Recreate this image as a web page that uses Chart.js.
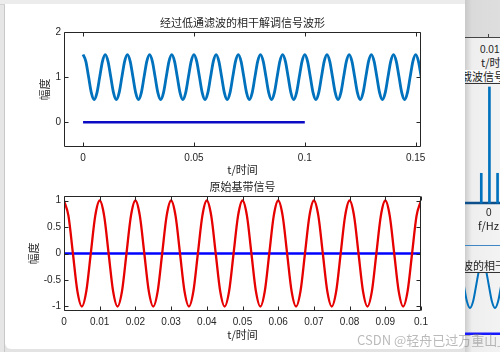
<!DOCTYPE html>
<html>
<head>
<meta charset="utf-8">
<script src="https://cdn.jsdelivr.net/npm/chart.js@4.4.1/dist/chart.umd.min.js"></script>
<style>
    html, body { margin: 0; padding: 0; }
    body { width: 500px; height: 352px; position: relative; overflow: hidden; background: #e3e3e3; font-family: "Noto Sans CJK SC", sans-serif; }
    .abs { position: absolute; }
    #leftStrip { left: 0; top: 0; width: 5px; height: 352px; background: #e6e6e6; border-right: 1px solid #c8c8c8; box-sizing: border-box; }
    #topStrip { left: 0; top: 0; width: 465px; height: 5px; background: #ececec; border-bottom: 1px solid #d2d2d2; box-sizing: border-box; }
    #figWin { left: 5px; top: 4px; width: 460px; height: 345px; background: #fff; border-radius: 0 0 6px 6px; }
    #rightWin { left: 465px; top: 0; width: 35px; height: 352px; overflow: hidden; background: linear-gradient(to right, #cdcdcd, #eeeeee 7px, #f3f3f3); }
    #rightTop { left: 0; top: 0; width: 35px; height: 37px; background: linear-gradient(to right, #c9c9c9, #dadada 7px, #dedede); border-bottom: 1px solid #444; }
    .rtxt { position: absolute; white-space: nowrap; color: #222; line-height: 12px; }
    .num { font-family: "Liberation Sans", Arial, sans-serif; font-size: 10px; }
    .cjk { font-size: 11px; }
    #mark { left: 357px; top: 332px; font-size: 13px; color: rgba(130, 130, 130, 0.55); white-space: nowrap; line-height: 16px; }
</style>
</head>
<body>
<div id="leftStrip" class="abs"></div>
<div id="topStrip" class="abs"></div>
<div id="figWin" class="abs"></div>
<div id="rightWin" class="abs">
    <div id="rightTop" class="abs"></div>
    <div class="abs" style="left:23px;top:34px;width:1px;height:4px;background:#444"></div>
    <div class="rtxt num" style="left:15px;top:44px">0.01</div>
    <div class="rtxt cjk" style="left:16px;top:56px">t/时间</div>
    <div class="rtxt cjk" style="left:-4px;top:70px;background:#fafafa">载波信号</div>
    <div class="abs" style="left:0;top:83px;width:35px;height:1px;background:#333"></div>
    <canvas id="specChart" class="abs" width="35" height="125" style="left:0;top:84px"></canvas>
    <div class="rtxt num" style="left:21px;top:207px">0</div>
    <div class="rtxt cjk" style="left:13px;top:219px">f/Hz</div>
    <div class="abs" style="left:0;top:245px;width:35px;height:1px;background:#3f86c4"></div>
    <div class="rtxt cjk" style="left:-3px;top:259px">波的相干解调</div>
    <div class="abs" style="left:0;top:272px;width:35px;height:1px;background:#333"></div>
    <canvas id="fragChart" class="abs" width="35" height="65" style="left:0;top:273px"></canvas>
</div>
<canvas id="lpfChart" class="abs" width="500" height="176" style="left:0;top:0"></canvas>
<canvas id="baseChart" class="abs" width="500" height="176" style="left:0;top:176px"></canvas>
<div id="mark" class="abs">CSDN @轻舟已过万重山_V</div>

<script>
// 时间单位: ms (刻度标签按秒显示)

// 上图: 经过低通滤波的相干解调信号
var lpfTime = [
    0, 1.25, 2.5, 3.75, 5, 6.25, 7.5, 8.75,
    10, 11.25, 12.5, 13.75, 15, 16.25, 17.5, 18.75,
    20, 21.25, 22.5, 23.75, 25, 26.25, 27.5, 28.75,
    30, 31.25, 32.5, 33.75, 35, 36.25, 37.5, 38.75,
    40, 41.25, 42.5, 43.75, 45, 46.25, 47.5, 48.75,
    50, 51.25, 52.5, 53.75, 55, 56.25, 57.5, 58.75,
    60, 61.25, 62.5, 63.75, 65, 66.25, 67.5, 68.75,
    70, 71.25, 72.5, 73.75, 75, 76.25, 77.5, 78.75,
    80, 81.25, 82.5, 83.75, 85, 86.25, 87.5, 88.75,
    90, 91.25, 92.5, 93.75, 95, 96.25, 97.5, 98.75,
    100, 101.25, 102.5, 103.75, 105, 106.25, 107.5, 108.75,
    110, 111.25, 112.5, 113.75, 115, 116.25, 117.5, 118.75,
    120, 121.25, 122.5, 123.75, 125, 126.25, 127.5, 128.75,
    130, 131.25, 132.5, 133.75, 135, 136.25, 137.5, 138.75,
    140, 141.25, 142.5, 143.75, 145, 146.25, 147.5, 148.75,
    150, 151.25, 152.5, 153.75, 155
];
var lpfValue = [
    1.5, 1.35, 1, 0.65, 0.5, 0.65, 1, 1.35,
    1.5, 1.35, 1, 0.65, 0.5, 0.65, 1, 1.35,
    1.5, 1.35, 1, 0.65, 0.5, 0.65, 1, 1.35,
    1.5, 1.35, 1, 0.65, 0.5, 0.65, 1, 1.35,
    1.5, 1.35, 1, 0.65, 0.5, 0.65, 1, 1.35,
    1.5, 1.35, 1, 0.65, 0.5, 0.65, 1, 1.35,
    1.5, 1.35, 1, 0.65, 0.5, 0.65, 1, 1.35,
    1.5, 1.35, 1, 0.65, 0.5, 0.65, 1, 1.35,
    1.5, 1.35, 1, 0.65, 0.5, 0.65, 1, 1.35,
    1.5, 1.35, 1, 0.65, 0.5, 0.65, 1, 1.35,
    1.5, 1.35, 1, 0.65, 0.5, 0.65, 1, 1.35,
    1.5, 1.35, 1, 0.65, 0.5, 0.65, 1, 1.35,
    1.5, 1.35, 1, 0.65, 0.5, 0.65, 1, 1.35,
    1.5, 1.35, 1, 0.65, 0.5, 0.65, 1, 1.35,
    1.5, 1.35, 1, 0.65, 0.5, 0.65, 1, 1.35,
    1.5, 1.35, 1, 0.65, 0.5
];
var lpfDcTime = [0, 100];
var lpfDcValue = [0, 0];
var lpfXTicks = [0, 50, 100, 150];
var lpfXLabels = ['0', '0.05', '0.1', '0.15'];
var lpfYTicks = [0, 1, 2];
var lpfYLabels = ['0', '1', '2'];

// 下图: 原始基带信号 (与上图同一组采样时刻)
var baseTime = lpfTime.slice(0, 81);
var baseValue = [
    1, 0.71, 0, -0.71, -1, -0.71, 0, 0.71,
    1, 0.71, 0, -0.71, -1, -0.71, 0, 0.71,
    1, 0.71, 0, -0.71, -1, -0.71, 0, 0.71,
    1, 0.71, 0, -0.71, -1, -0.71, 0, 0.71,
    1, 0.71, 0, -0.71, -1, -0.71, 0, 0.71,
    1, 0.71, 0, -0.71, -1, -0.71, 0, 0.71,
    1, 0.71, 0, -0.71, -1, -0.71, 0, 0.71,
    1, 0.71, 0, -0.71, -1, -0.71, 0, 0.71,
    1, 0.71, 0, -0.71, -1, -0.71, 0, 0.71,
    1, 0.71, 0, -0.71, -1, -0.71, 0, 0.71,
    1
];
var baseDcTime = [0, 100];
var baseDcValue = [0, 0];
var baseXTicks = [0, 10, 20, 30, 40, 50, 60, 70, 80, 90, 100];
var baseXLabels = ['0', '0.01', '0.02', '0.03', '0.04', '0.05', '0.06', '0.07', '0.08', '0.09', '0.1'];
var baseYTicks = [-1, -0.5, 0, 0.5, 1];
var baseYLabels = ['-1', '-0.5', '0', '0.5', '1'];

// 右侧被遮住的窗口: 频谱和解调波形的一小段
var specFreq = [-1, 0, 1];
var specMag = [0.25, 0.975, 0.25];
var specFloorFreq = [-3, 1.3];
var specFloorMag = [0, 0];
var fragX = [-1.25, 1.875, 5, 8.125, 11.25, 14.375, 17.5, 20.625, 23.75, 26.875, 30, 33.125, 36.25];
var fragY = [0, -0.71, -1, -0.71, 0, 0.71, 1, 0.71, 0, -0.71, -1, -0.71, 0];
var fragDcX = [0, 35];
var fragDcY = [-2.13, -2.13];

Chart.defaults.animation = false;

var TEXT = '#262626';
var NUM_FONT = '10px "Liberation Sans", Arial, sans-serif';
var CJK_FONT = '11px "Noto Sans CJK SC", sans-serif';

function pts(xs, ys) {
    return xs.map(function (x, i) { return { x: x, y: ys[i] }; });
}

// MATLAB style axes: box, inward ticks on all four sides, tick labels, titles
function matlabAxes(cfg) {
    return {
        id: 'matlabAxes',
        afterDatasetsDraw: function (chart) {
            var a = chart.chartArea, ctx = chart.ctx;
            var xs = chart.scales.x, ys = chart.scales.y;
            var len = 4;
            var l = Math.round(a.left) + 0.5, r = Math.round(a.right) - 0.5;
            var t = Math.round(a.top) + 0.5, b = Math.round(a.bottom) - 0.5;
            var cx = (a.left + a.right) / 2;
            ctx.save();
            ctx.strokeStyle = TEXT;
            ctx.lineWidth = 1;
            ctx.beginPath();
            ctx.rect(l, t, r - l, b - t);
            cfg.xTicks.forEach(function (v) {
                var p = Math.round(xs.getPixelForValue(v)) + 0.5;
                ctx.moveTo(p, b); ctx.lineTo(p, b - len);
                ctx.moveTo(p, t); ctx.lineTo(p, t + len);
            });
            cfg.yTicks.forEach(function (v) {
                var p = Math.round(ys.getPixelForValue(v)) + 0.5;
                ctx.moveTo(l, p); ctx.lineTo(l + len, p);
                ctx.moveTo(r, p); ctx.lineTo(r - len, p);
            });
            ctx.stroke();

            ctx.fillStyle = TEXT;
            ctx.textBaseline = 'middle';
            ctx.font = NUM_FONT;
            ctx.textAlign = 'center';
            cfg.xTicks.forEach(function (v, i) {
                ctx.fillText(cfg.xLabels[i], xs.getPixelForValue(v), a.bottom + 11);
            });
            ctx.textAlign = 'right';
            cfg.yTicks.forEach(function (v, i) {
                ctx.fillText(cfg.yLabels[i], a.left - 3, ys.getPixelForValue(v));
            });

            ctx.font = CJK_FONT;
            ctx.textAlign = 'center';
            ctx.fillText(cfg.title, cx, a.top - 9);
            ctx.fillText(cfg.xTitle, cx, a.bottom + cfg.xTitleGap);
            ctx.translate(cfg.yTitleX, (a.top + a.bottom) / 2);
            ctx.rotate(-Math.PI / 2);
            ctx.fillText(cfg.yTitle, 0, 0);
            ctx.restore();
        }
    };
}

function plainOptions(pad, xMin, xMax, yMin, yMax) {
    return {
        responsive: false,
        layout: { padding: pad },
        scales: {
            x: { type: 'linear', min: xMin, max: xMax, display: false, offset: false },
            y: { type: 'linear', min: yMin, max: yMax, display: false }
        },
        plugins: { legend: { display: false }, tooltip: { enabled: false } }
    };
}

new Chart(document.getElementById('lpfChart'), {
    type: 'line',
    data: {
        datasets: [{
            data: pts(lpfTime, lpfValue),
            borderColor: '#0072BD', borderWidth: 2.8, pointRadius: 0,
            cubicInterpolationMode: 'monotone', tension: 0.4, clip: 0
        }, {
            data: pts(lpfDcTime, lpfDcValue),
            borderColor: '#0b0bc4', borderWidth: 2.5, pointRadius: 0
        }]
    },
    options: plainOptions({ left: 64, right: 79, top: 32, bottom: 29 }, -8.6, 152.4, -0.55, 2),
    plugins: [matlabAxes({
        xTicks: lpfXTicks, xLabels: lpfXLabels, yTicks: lpfYTicks, yLabels: lpfYLabels,
        title: '经过低通滤波的相干解调信号波形', xTitle: 't/时间', yTitle: '幅度',
        xTitleGap: 23, yTitleX: 45
    })]
});

new Chart(document.getElementById('baseChart'), {
    type: 'line',
    data: {
        datasets: [{
            data: pts(baseTime, baseValue),
            borderColor: '#e60000', borderWidth: 2.3, pointRadius: 0,
            cubicInterpolationMode: 'monotone', tension: 0.4, clip: 0
        }, {
            data: pts(baseDcTime, baseDcValue),
            borderColor: '#0000ff', borderWidth: 2.5, pointRadius: 0, clip: 0
        }]
    },
    options: plainOptions({ left: 64, right: 79, top: 20, bottom: 41 }, 0, 100, -1.085, 1.085),
    plugins: [matlabAxes({
        xTicks: baseXTicks, xLabels: baseXLabels, yTicks: baseYTicks, yLabels: baseYLabels,
        title: '原始基带信号', xTitle: 't/时间', yTitle: '幅度',
        xTitleGap: 24, yTitleX: 34
    })]
});

// fragments of the window behind
new Chart(document.getElementById('specChart'), {
    type: 'bar',
    data: {
        datasets: [{
            type: 'bar', data: pts(specFreq, specMag),
            backgroundColor: '#0072BD', barThickness: 2
        }, {
            type: 'line', data: pts(specFloorFreq, specFloorMag),
            borderColor: '#0d4f8b', borderWidth: 2.5, pointRadius: 0
        }]
    },
    options: plainOptions(0, -3, 1.3, -0.05, 1)
});

new Chart(document.getElementById('fragChart'), {
    type: 'line',
    data: {
        datasets: [{
            data: pts(fragX, fragY),
            borderColor: '#0072BD', borderWidth: 2, pointRadius: 0,
            cubicInterpolationMode: 'monotone', tension: 0.4, clip: 0
        }, {
            data: pts(fragDcX, fragDcY),
            borderColor: '#1a1aff', borderWidth: 2.5, pointRadius: 0
        }]
    },
    options: plainOptions(0, 0, 35, -2.31, 0.52)
});
</script>
</body>
</html>
